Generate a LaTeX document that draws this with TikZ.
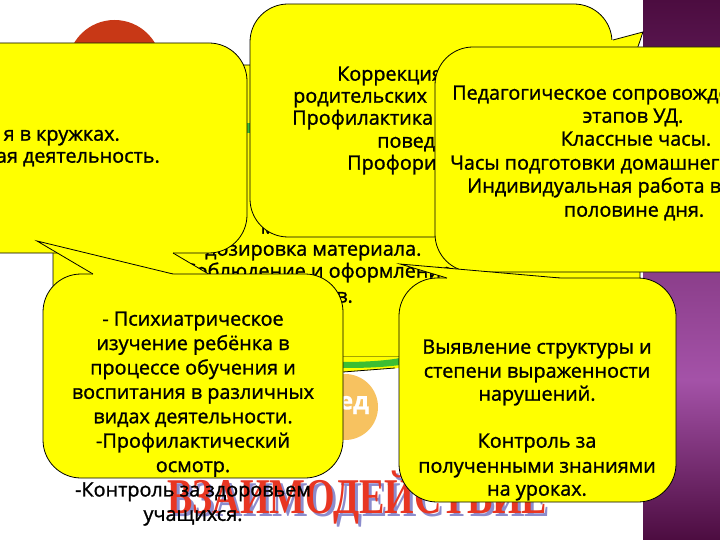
\documentclass[tikz,border=0pt]{standalone}
\usepackage{fontspec}
\setmainfont{Open Sans}[FakeBold=1.2]
\newfontfamily\wordfont{Liberation Serif}
\definecolor{bubyel}{RGB}{255,255,0}
\definecolor{redcirc}{RGB}{200,56,22}
\definecolor{purdark}{RGB}{76,12,64}
\definecolor{purlight}{RGB}{164,82,168}
\definecolor{wordred}{RGB}{232,54,34}
\definecolor{wordshadow}{RGB}{140,140,205}
\definecolor{blobor}{RGB}{247,194,96}
\definecolor{rimgreen}{RGB}{60,190,50}
\begin{document}
\begin{tikzpicture}[x=1pt,y=-1pt,
  bub/.style={fill=bubyel,draw=black,line width=0.8pt,rounded corners=38pt},
  edge/.style={draw=black,line width=0.8pt},
  txt/.style={font=\fontsize{19.8}{22}\selectfont,inner sep=0pt,anchor=mid}]
\useasboundingbox (0,0) rectangle (720,540);
\clip (0,0) rectangle (720,540);
\fill[white] (0,0) rectangle (720,540);
% purple band
\shade[top color=purdark,bottom color=purlight] (643,0) rectangle (720,380);
\shade[top color=purlight,bottom color=purdark] (643,380) rectangle (720,540);
% red circle
\fill[redcirc] (114.5,67) circle (47);
% background bubble
\draw[bub] (53,65) rectangle (640,357);
\fill[rimgreen] (247,123) rectangle (250,133);
\node[txt] (m0) at (268,231) {м};
\node[txt,anchor=mid west] (m1) at (205,253) {дозировка материала.};
\node[txt,anchor=mid west] (m2) at (183,275) {Соблюдение и оформление};
\node[txt,anchor=mid east] (m3) at (353,300) {ов.};
% plate rim
\fill[bubyel] (343,357) -- (400,357) -- (400,368) -- (343,372) -- cycle;
\fill[rimgreen] (343,362) .. controls (370,362) and (390,360) .. (400,358) -- (400,365) .. controls (385,367) and (370,368) .. (343,368) -- cycle;
\draw[edge] (343,372) -- (395,368);
% orange blob
\fill[blobor] (345,407) circle (33);
\node[text=white,font=\bfseries\fontsize{24}{24}\selectfont,inner sep=0pt] (ed) at (354,405) {ед};
% big red word
\node[text=wordshadow,font=\wordfont\bfseries\fontsize{50}{50}\selectfont,inner sep=0pt,anchor=base west] (wsh) at (170,516) {\scalebox{0.76}[1]{ВЗАИМОДЕЙСТВИЕ}};
\node[text=wordred,font=\wordfont\bfseries\fontsize{50}{50}\selectfont,inner sep=0pt,anchor=base west] (word) at (167,513) {\scalebox{0.76}[1]{ВЗАИМОДЕЙСТВИЕ}};
% bubble 1
\draw[bub] (-100,43) rectangle (247,253);
\fill[bubyel] (57,251.5) -- (173,251.5) -- (173,253) -- (212,276) -- (93,276) -- (57,253) -- cycle;
\draw[edge] (173,253) -- (212,276);
\node[txt,anchor=mid east] (a1) at (120,138) {я в кружках.};
\node[txt,anchor=mid east] (a2) at (160,160) {ая деятельность.};
% bubble 2
\draw[bub] (250,4) rectangle (612,237);
\fill[bubyel] (610,40) -- (613,40) -- (643,32) -- (613,120) -- (610,120) -- cycle;
\draw[edge] (613,40) -- (643,32) -- (613,120);
\node[txt,anchor=mid west] (c1) at (337,78) {Коррекция};
\node[txt,anchor=mid west] (c2) at (293,100) {родительских};
\node[txt,anchor=mid west] (c3) at (292,122) {Профилактика};
\node[txt,anchor=mid west] (c4) at (377,145) {поведения.};
\node[txt,anchor=mid west] (c5) at (347,167) {Профориентация.};
% bubble 3
\draw[bub] (435,47) rectangle (770,272);
\node[txt,anchor=mid west] (d1) at (452,97) {Педагогическое сопровождение};
\node[txt] (d2) at (633,120) {этапов УД.};
\node[txt] (d3) at (636,143) {Классные часы.};
\node[txt,anchor=mid west] (d4) at (450,167) {Часы подготовки домашнего задания.};
\node[txt,anchor=mid west] (d5) at (467,190) {Индивидуальная работа во второй};
\node[txt] (d6) at (634,214) {половине дня.};
% bubble 4
\draw[bub] (43,274) rectangle (343,478);
\fill[bubyel] (93,277) -- (93,274) -- (37,241) -- (173,274) -- (173,277) -- cycle;
\draw[edge] (93,274) -- (37,241) -- (173,274);
\foreach \t [count=\i] in {- Психиатрическое,изучение ребёнка в,процессе обучения и,воспитания в различных,видах деятельности.,-Профилактический,осмотр.,-Контроль за здоровьем,учащихся.}
  {\node[txt] (b\i) at (193,{323+24.4*(\i-1)}) {\t};}
% bubble 5
\draw[bub] (399,278) rectangle (676,502);
\fill[bubyel] (447,281) -- (447,278) -- (400,264) -- (560,278) -- (560,281) -- cycle;
\draw[edge] (447,278) -- (400,264) -- (560,278);
\node[txt] (e1) at (537,351) {Выявление структуры и};
\node[txt] (e2) at (537,375) {степени выраженности};
\node[txt] (e3) at (537,398) {нарушений.};
\node[txt] (e4) at (537,445) {Контроль за};
\node[txt] (e5) at (537,470) {полученными знаниями};
\node[txt] (e6) at (537,493) {на уроках.};
\end{tikzpicture}
\end{document}
